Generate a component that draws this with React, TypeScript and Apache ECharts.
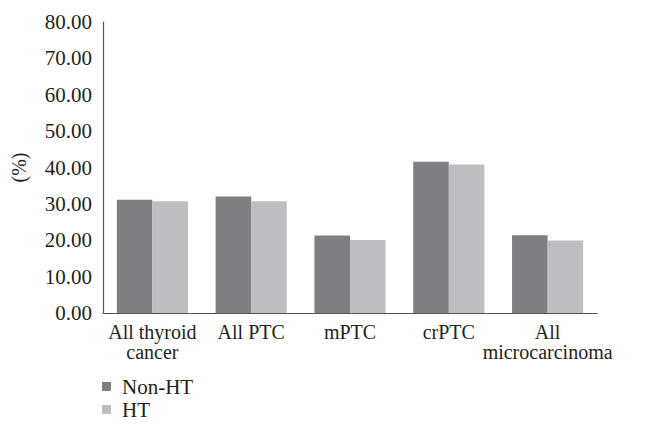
import React, { useEffect, useRef } from "react";
import * as echarts from "echarts";

const categories = ["All thyroid\ncancer", "All PTC", "mPTC", "crPTC", "All\nmicrocarcinoma"];
const nonHT = [31.1, 32.0, 21.3, 41.6, 21.4];
const ht = [30.7, 30.7, 20.1, 40.8, 19.9];
const yTicks = { min: 0, max: 80, interval: 10 };

const FONT = "'Liberation Serif', 'DejaVu Serif', serif";

export default function App() {
  const ref = useRef<HTMLDivElement>(null);
  useEffect(() => {
    if (!ref.current) return;
    const chart = echarts.init(ref.current, null, { renderer: "svg" });
    chart.setOption({
      animation: false,
      textStyle: { fontFamily: FONT, color: "#231f20" },
      grid: { left: 103, top: 22, right: 62, bottom: 115, containLabel: false },
      legend: {
        orient: "vertical",
        left: 102,
        top: 376,
        padding: 0,
        itemWidth: 9,
        itemHeight: 9,
        itemGap: 2,
        icon: "rect",
        textStyle: { fontFamily: FONT, fontSize: 21, color: "#231f20", padding: [0, 0, 0, 6] },
        data: ["Non-HT", "HT"],
      },
      xAxis: {
        type: "category",
        data: categories,
        axisLine: { lineStyle: { color: "#555", width: 1.2 } },
        axisTick: { show: false },
        axisLabel: {
          fontFamily: FONT,
          fontSize: 20,
          color: "#231f20",
          lineHeight: 20,
          margin: 9,
          interval: 0,
        },
      },
      yAxis: {
        type: "value",
        min: yTicks.min,
        max: yTicks.max,
        interval: yTicks.interval,
        name: "(%)",
        nameLocation: "middle",
        nameGap: 74,
        nameRotate: 90,
        nameTextStyle: { fontFamily: FONT, fontSize: 20, color: "#231f20" },
        axisLine: { show: true, lineStyle: { color: "#555", width: 1.2 } },
        axisTick: { show: false },
        splitLine: { show: false },
        axisLabel: {
          fontFamily: FONT,
          fontSize: 21,
          color: "#231f20",
          margin: 11,
          formatter: (v: number) => v.toFixed(2),
        },
      },
      series: [
        {
          name: "Non-HT",
          type: "bar",
          data: nonHT,
          barGap: "0%",
          barCategoryGap: "28%",
          itemStyle: { color: "#7f7f83" },
        },
        {
          name: "HT",
          type: "bar",
          data: ht,
          barGap: "0%",
          barCategoryGap: "28%",
          itemStyle: { color: "#bdbec2" },
        },
      ],
    });
    return () => chart.dispose();
  }, []);
  return (
    <div
      ref={ref}
      style={{ position: "absolute", left: 0, top: 0, width: 659, height: 428 }}
    />
  );
}
